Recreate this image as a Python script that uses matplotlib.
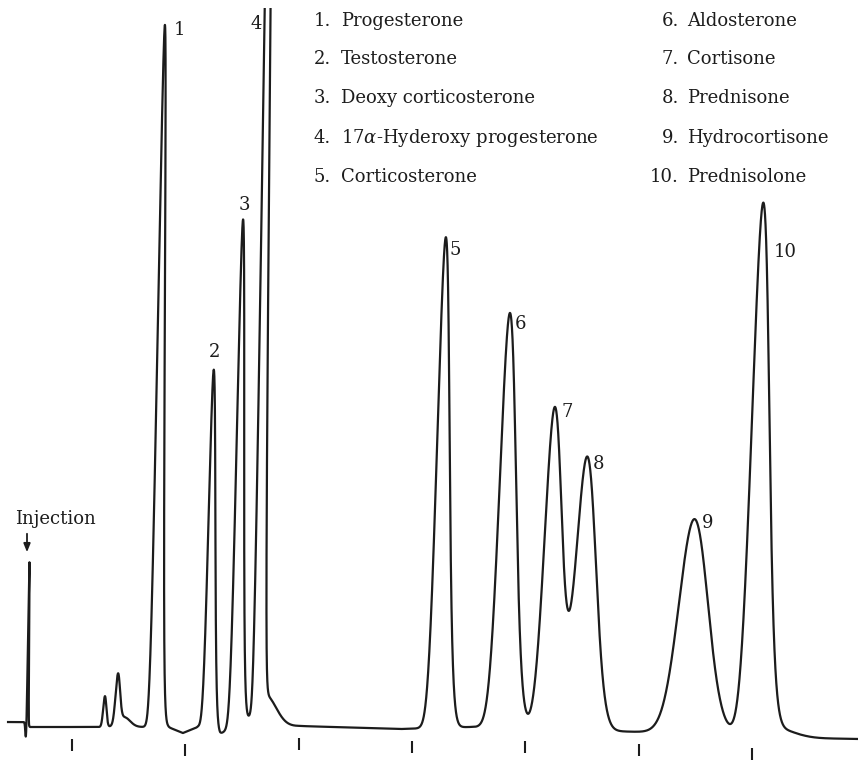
import numpy as np
import matplotlib
matplotlib.use("Agg")
import matplotlib.pyplot as plt
from matplotlib.transforms import Affine2D

# =========================================================
# DATA
# time in chart divisions (tick marks = 1..7)
# response in % of full scale, width = gaussian sigma (divisions)
# "" = unlabelled feature (injection spike, small early peaks, tails)
# =========================================================
PEAK_LABEL = ["", "", "", "", "", "1", "2", "3", "4", "", "5", "6", "7", "8", "9", "10", ""]
RET_TIME = [0.6072, 0.5940, 1.2877, 1.4007, 1.4590, 1.7458, 2.2136, 2.4563, 2.6505, 2.7035,
            4.2480, 4.8217, 5.2277, 5.5190, 6.4722, 7.0459, 7.2400]
HEIGHT = [23.4, -2.1, 4.4, 6.9, 1.4, 100.3, 51.4, 72.6, 185.7, 4.6,
          70.1, 59.3, 45.9, 39.1, 30.6, 75.7, 1.1]
WIDTH = [0.0044, 0.0062, 0.0141, 0.0194, 0.0530, 0.0291, 0.0291, 0.0309, 0.0229, 0.0950,
         0.0530, 0.0706, 0.0750, 0.0883, 0.1280, 0.0750, 0.1500]

# baseline drift of the recorder
BASE_T = [0.4351, 0.5852, 0.6293, 1.6002, 1.8473, 1.9797, 2.1121, 2.2357, 2.3063, 2.3945,
          3.0124, 3.8950, 4.5128, 6.0132, 6.7193, 7.4254, 7.9373]
BASE_S = [0.71, 0.71, 0.0, 0.0, 0.0, -0.86, 0.0, -0.43, -1.0, -0.29,
          0.14, -0.29, 0.0, -0.71, -1.0, -1.57, -1.71]

TICK_T = [1, 2, 3, 4, 5, 6, 7]

COMPOUNDS = ["Progesterone", "Testosterone", "Deoxy corticosterone",
             r"17$\alpha$-Hyderoxy progesterone", "Corticosterone",
             "Aldosterone", "Cortisone", "Prednisone", "Hydrocortisone", "Prednisolone"]

# =========================================================
# LAYOUT
# =========================================================
W, H = 858, 763
DIV_PX = 113.3      # px per chart division
PCT_PX = 7.0        # px per % full scale
X0_PX, Y0_PX = 72, 727
LEAN = 0.000741     # pen arc lean (divisions per % response)

def px2t(px):
    return (px - X0_PX) / DIV_PX + 1

def py2s(py):
    return (Y0_PX - py) / PCT_PX

plt.rcParams["mathtext.fontset"] = "dejavuserif"
SERIF = "DejaVu Serif"
INK = "#1c1c1c"

fig = plt.figure(figsize=(W / 100, H / 100), dpi=100)
ax = fig.add_axes([0, 0, 1, (H - 8) / H])
ax.set_xlim(px2t(0), px2t(W))
ax.set_ylim(py2s(H), py2s(8))
ax.axis("off")

lean_tr = Affine2D(np.array([[1.0, LEAN, 0.0], [0.0, 1.0, 0.0], [0.0, 0.0, 1.0]])) + ax.transData

# trace
t = np.linspace(BASE_T[0], BASE_T[-1], 14000)
sig = np.interp(t, BASE_T, BASE_S)
for c, h, w in zip(RET_TIME, HEIGHT, WIDTH):
    sig = sig + h * np.exp(-0.5 * ((t - c) / w) ** 2)
ax.plot(t, sig, color=INK, lw=1.6, transform=lean_tr, solid_joinstyle="round")

# time marks under the trace
tick_base = np.interp(TICK_T, BASE_T, BASE_S)
ax.vlines(TICK_T, tick_base - 24 / PCT_PX, tick_base - 12 / PCT_PX, color=INK, lw=1.5)

# peak numbers
LABEL_PX = [(180, 30), (215, 352), (244, 205), (256, 24), (455, 250),
            (520, 324), (567, 412), (599, 464), (708, 523), (785, 252)]
labels = [p for p in PEAK_LABEL if p]
for lab, (x, y) in zip(labels, LABEL_PX):
    ax.text(px2t(x), py2s(y), lab, ha="center", va="center", fontsize=13,
            family=SERIF, color=INK, clip_on=False)

# injection mark
ax.text(px2t(55), py2s(519), "Injection", ha="center", va="center", fontsize=13,
        family=SERIF, color=INK, clip_on=False)
ax.annotate("", xy=(px2t(27), py2s(555)), xytext=(px2t(27), py2s(531)),
            arrowprops=dict(arrowstyle="-|>,head_length=0.5,head_width=0.2",
                            color=INK, lw=1.3))

# compound list
ROW_PY = [21, 59, 98, 138, 177]
for i, name in enumerate(COMPOUNDS):
    col, row = divmod(i, 5)
    num_x = 331 if col == 0 else 679
    name_x = 341 if col == 0 else 687
    y = 1 - ROW_PY[row] / H
    fig.text(num_x / W, y, f"{i + 1}.", ha="right", va="center", fontsize=13,
             family=SERIF, color=INK)
    fig.text(name_x / W, y, name, ha="left", va="center", fontsize=13,
             family=SERIF, color=INK)

fig.savefig("out.png", dpi=100, facecolor="white")
